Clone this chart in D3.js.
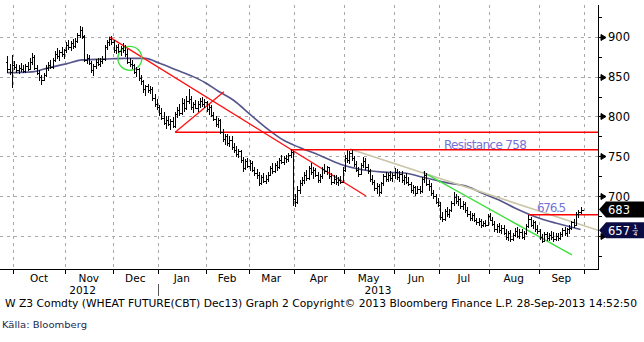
<!DOCTYPE html>
<html>
<head>
<meta charset="utf-8">
<script src="https://cdn.jsdelivr.net/npm/d3@7"></script>
<style>
  body { margin: 0; background: #fff; }
  svg { display: block; }
  text { font-family: "DejaVu Sans", Verdana, sans-serif; }
</style>
</head>
<body>
<svg id="chart" width="644" height="342"></svg>
<script>
// W Z3 (CBOT wheat, Dec 2013) daily bars, 26-Sep-2012 .. 27-Sep-2013
const opens = [
  868,860,856,
  865,862,858,861,859,857,863,860,869,875,861,855,849,846,852,861,865,862,871,879,876,881,878,
  883,890,887,892,888,895,902,908,900,871,874,867,858,863,868,866,870,872,887,893,897,
  894,884,887,882,886,884,879,868,866,864,856,859,848,844,834,838,833,835,823,816,
  812,804,798,792,796,790,794,788,803,808,804,817,811,820,822,812,815,811,816,820,815,
  818,809,812,802,797,790,795,781,772,775,766,771,761,758,753,756,745,735,744,
  738,741,733,729,726,716,724,719,722,727,735,731,739,736,745,743,748,746,751,755,
  696,692,708,716,720,727,723,735,730,733,727,720,725,734,731,736,725,718,722,717,720,718,
  733,748,745,754,748,740,733,728,739,744,736,731,722,717,710,713,705,716,725,721,726,723,
  727,730,724,728,720,724,718,715,708,711,704,709,706,721,726,715,712,704,700,693,
  689,674,671,681,677,682,691,699,694,696,687,690,683,677,672,676,670,667,669,663,666,664,
  675,670,665,659,662,657,660,654,648,653,646,651,656,650,655,649,653,662,671,664,667,658,
  656,648,644,652,647,651,649,646,650,647,652,657,654,658,660,667,664,677,680
];
const highs = [
  876,866,877,
  870,866,864,867,864,866,868,874,880,877,865,858,852,855,864,869,871,874,882,886,884,887,885,
  894,896,895,897,898,905,913,912,902,878,877,870,866,872,874,873,876,890,896,900,901,
  896,890,891,889,892,890,885,873,871,866,862,861,852,846,840,841,838,837,828,822,
  814,810,806,800,801,797,799,806,812,815,823,822,826,834,826,818,821,819,823,825,822,
  820,815,814,806,800,798,797,784,778,778,776,775,766,763,759,758,749,747,748,
  745,744,737,734,730,727,729,726,730,738,741,742,744,748,751,750,752,754,759,757,
  702,712,720,724,730,733,738,741,736,735,730,728,737,740,738,737,729,726,727,724,725,736,
  752,758,757,758,750,744,737,742,749,748,740,734,726,720,716,715,718,728,730,729,731,729,
  735,734,731,732,727,729,724,718,714,713,712,713,724,731,729,720,716,708,703,697,
  692,680,684,686,684,694,705,703,700,698,694,693,686,681,679,679,673,672,671,669,670,678,
  679,674,668,665,666,663,664,658,656,657,654,660,661,658,659,656,665,676.5,674,670,669,663,
  658,652,655,655,654,656,655,653,654,655,660,661,660,663,669,671,680,682,686
];
const lows = [
  855,852,836,
  858,855,853,856,854,855,857,858,864,858,852,845,840,844,850,857,860,860,868,872,870,875,872,
  880,884,882,885,886,892,898,897,868,866,864,855,851,860,863,862,866,870,883,889,890,
  880,878,880,876,880,875,866,862,860,853,850,845,840,830,826,830,828,820,812,808,
  800,795,789,784,788,783,786,786,798,800,802,806,808,815,808,804,809,806,810,812,810,
  806,802,799,794,787,786,778,768,764,763,762,758,754,749,748,742,730,733,735,
  731,730,725,722,712,714,716,715,718,725,728,729,732,734,740,739,742,743,748,688,
  686,690,703,712,715,719,720,727,722,724,716,716,722,728,726,722,714,715,714,713,715,716,
  730,742,740,744,736,730,724,726,735,733,728,718,714,706,702,700,703,713,718,717,719,718,
  722,720,718,716,714,715,712,704,702,700,702,703,704,716,712,706,700,696,690,686,
  670,667,669,674,672,680,688,690,688,684,682,679,674,668,668,667,664,662,660,661,661,662,
  668,662,655,653,654,652,651,645,644,642,643,649,647,646,646,645,651,660,661,658,655,652,
  645,641,643,644,643,645,642,643,644,645,648,650,649,652,657,660,662,672,677
];
const closes = [
  860,856,865,
  862,858,861,859,857,863,860,869,875,861,855,849,846,852,861,865,862,871,879,876,881,878,883,
  890,887,892,888,895,902,908,901,871,874,867,858,863,868,866,870,872,887,893,897,894,
  884,887,882,886,884,879,868,866,864,856,859,848,844,834,838,833,835,823,816,812,
  804,798,792,796,790,794,788,803,808,804,817,811,820,822,812,815,811,816,820,815,818,
  809,812,802,797,790,795,781,772,775,766,771,761,758,753,756,745,735,744,738,
  741,733,729,726,716,724,719,722,727,735,731,739,736,745,743,748,746,751,755,696,
  692,708,716,720,727,723,735,730,733,727,720,725,734,731,736,725,718,722,717,720,718,733,
  748,745,754,748,740,733,728,739,744,736,731,722,717,710,713,705,716,725,721,726,723,727,
  730,724,728,720,724,718,715,708,711,704,709,706,721,726,715,712,704,700,693,689,
  674,671,681,677,682,691,699,694,696,687,690,683,677,672,676,670,667,669,663,666,664,675,
  670,665,659,662,657,660,654,648,653,646,651,656,650,655,649,653,662,671,664,667,658,656,
  648,644,652,647,651,649,646,650,647,652,657,654,658,660,667,664,677,680,683
];

// moving average, [bar index, value]
const movingAvg = [
  [0,855],[11,856],[18,861],[26,866],[33,871],[43,872],[52,873],[61,873],[67,867],
  [75,858],[82,850],[87,843],[93,832],[100,820],[107,803],[115,784],[122,770],[129,761],
  [138,751],[147,740],[155,734],[166,730],[175,729],[183,724],[195,716],[203,712],
  [210,703],[217,695],[224,685],[233,674],[242,666],[253,658]
];

// drawn studies: [bar index, price] end points
const trendRedDown  = [[45, 900], [158.3, 700]];
const trendRedUp    = [[74.1, 780], [95.6, 831]];
const levelLines    = [{from: 74.1, price: 780}, {from: 125, price: 758}, {from: 230, price: 676.5}];
const trendTan      = [[151.2, 759], [260.7, 657]];
const trendGreen    = [[183.5, 730], [249.2, 626]];
const circleMark    = {i: 54.1, price: 873};

const monthNames = ["Oct","Nov","Dec","Jan","Feb","Mar","Apr","May","Jun","Jul","Aug","Sep"];
const yearNames  = ["2012","2013"];
const majorTicks = [650, 700, 750, 800, 850, 900];
const labelTicks = [700, 750, 800, 850, 900];   // 650 sits under the average tag
const minorTicks = [625, 675, 725, 775, 825, 875, 925];
const lastPrice = 683, lastAvg = 657;
const holidays = ["2012-11-22","2012-12-25","2013-01-01","2013-01-21","2013-02-18",
                  "2013-03-29","2013-05-27","2013-07-04","2013-09-02"];

// trading calendar (weekdays without exchange holidays)
const fmt = d3.utcFormat("%Y-%m-%d");
const days = d3.utcDay.range(new Date(Date.UTC(2012, 8, 26)), new Date(Date.UTC(2013, 9, 2)))
  .filter(d => d.getUTCDay() % 6 !== 0 && !holidays.includes(fmt(d)));
const monthStarts = [];
days.forEach((d, i) => { if (i > 0 && d.getUTCMonth() !== days[i - 1].getUTCMonth()) monthStarts.push(i - 0.5); });

const plotR = 598, plotT = 5, plotB = 269;
const svg = d3.select("#chart");
const x = d3.scaleLinear().domain([-3.2, 260.7]).range([0, plotR]);
const y = d3.scaleLinear().domain([608.3, 940]).range([plotB, plotT]);

svg.append("defs").append("clipPath").attr("id", "plot")
  .append("rect").attr("x", 0).attr("y", plotT).attr("width", plotR).attr("height", plotB - plotT);

// grid
const grid = svg.append("g").attr("stroke", "#a8a8a8").attr("stroke-dasharray", "3,4").attr("stroke-width", 1);
grid.selectAll(".gx").data(monthStarts).join("line")
  .attr("x1", d => Math.round(x(d)) + 0.5).attr("x2", d => Math.round(x(d)) + 0.5)
  .attr("y1", plotT).attr("y2", plotB);
grid.selectAll(".gy").data(majorTicks).join("line")
  .attr("x1", 0).attr("x2", plotR)
  .attr("y1", d => Math.round(y(d)) + 0.5).attr("y2", d => Math.round(y(d)) + 0.5);

const plot = svg.append("g").attr("clip-path", "url(#plot)");
const line = d3.line().x(d => x(d[0])).y(d => y(d[1]));

// moving average
plot.append("path").datum(movingAvg)
  .attr("d", line.curve(d3.curveMonotoneX))
  .attr("fill", "none").attr("stroke", "#55558c").attr("stroke-width", 1.6);
line.curve(d3.curveLinear);

// tan trend
plot.append("path").datum(trendTan).attr("d", line)
  .attr("fill", "none").attr("stroke", "#c9c5a6").attr("stroke-width", 1.6);

// red studies
plot.append("path").datum(trendRedDown).attr("d", line).attr("fill", "none").attr("stroke", "#ff1010").attr("stroke-width", 1.3);
plot.append("path").datum(trendRedUp).attr("d", line).attr("fill", "none").attr("stroke", "#ff1010").attr("stroke-width", 1.3);
plot.selectAll(".lvl").data(levelLines).join("line")
  .attr("x1", d => x(d.from)).attr("x2", plotR)
  .attr("y1", d => y(d.price)).attr("y2", d => y(d.price))
  .attr("stroke", "#ff0000").attr("stroke-width", 1.5);

// green studies
plot.append("path").datum(trendGreen).attr("d", line).attr("fill", "none").attr("stroke", "#3ee03e").attr("stroke-width", 1.4);
plot.append("circle").attr("cx", x(circleMark.i)).attr("cy", y(circleMark.price)).attr("r", 12)
  .attr("fill", "none").attr("stroke", "#3ee03e").attr("stroke-width", 1.4);

// OHLC bars
const bars = plot.append("g").attr("stroke", "#000").attr("stroke-width", 1).attr("shape-rendering", "crispEdges");
closes.forEach((c, i) => {
  const xi = Math.round(x(i)) + 0.5;
  bars.append("line").attr("x1", xi).attr("x2", xi).attr("y1", y(highs[i])).attr("y2", y(lows[i]));
  bars.append("line").attr("x1", xi - 2).attr("x2", xi).attr("y1", Math.round(y(opens[i])) + 0.5).attr("y2", Math.round(y(opens[i])) + 0.5);
  bars.append("line").attr("x1", xi).attr("x2", xi + 2).attr("y1", Math.round(y(c)) + 0.5).attr("y2", Math.round(y(c)) + 0.5);
});

// study labels
svg.append("text").attr("x", x(192.7)).attr("y", y(758) - 1)
  .attr("fill", "#7474d6").attr("font-size", 12).attr("textLength", 83).text("Resistance 758");
svg.append("text").attr("x", x(233.8)).attr("y", y(676.5) - 3)
  .attr("fill", "#7474d6").attr("font-size", 12).attr("textLength", 29).text("676.5");

// right axis
const ax = svg.append("g");
ax.append("line").attr("x1", plotR + 0.5).attr("x2", plotR + 0.5).attr("y1", plotT).attr("y2", plotB).attr("stroke", "#000");
ax.selectAll(".mn").data(minorTicks).join("line")
  .attr("x1", plotR).attr("x2", plotR + 4)
  .attr("y1", d => Math.round(y(d)) + 0.5).attr("y2", d => Math.round(y(d)) + 0.5).attr("stroke", "#000");
ax.selectAll(".mj").data(majorTicks).join("path")
  .attr("d", d => { const yy = Math.round(y(d)) + 0.5; return `M${plotR},${yy}H${plotR + 3}M${plotR + 3},${yy - 3}L${plotR + 8},${yy}L${plotR + 3},${yy + 3}Z`; })
  .attr("stroke", "#000").attr("fill", "#000").attr("stroke-width", 1);
ax.selectAll(".lb").data(labelTicks).join("text")
  .attr("x", plotR + 10).attr("y", d => y(d) + 4.5).attr("font-size", 11.5).attr("fill", "#000").text(d => d);

// bottom axis
const bx = svg.append("g");
bx.append("line").attr("x1", 0).attr("x2", plotR + 1).attr("y1", plotB + 0.5).attr("y2", plotB + 0.5).attr("stroke", "#000");
bx.selectAll(".tk").data(monthStarts).join("line")
  .attr("x1", d => Math.round(x(d)) + 0.5).attr("x2", d => Math.round(x(d)) + 0.5)
  .attr("y1", plotB).attr("y2", plotB + 5).attr("stroke", "#000");
bx.selectAll(".ml").data(monthNames).join("text")
  .attr("x", (d, k) => (x(monthStarts[k]) + x(monthStarts[k + 1])) / 2)
  .attr("y", 282).attr("text-anchor", "middle").attr("font-size", 10.5).text(d => d);
const janTick = x(monthStarts[3]);
const yearSpans = [[x(0), janTick], [janTick, plotR]];
bx.selectAll(".yl").data(yearNames).join("text")
  .attr("x", (d, k) => (yearSpans[k][0] + yearSpans[k][1]) / 2)
  .attr("y", 294).attr("text-anchor", "middle").attr("font-size", 10.5).text(d => d);
bx.append("line").attr("x1", Math.round(janTick) + 0.5).attr("x2", Math.round(janTick) + 0.5)
  .attr("y1", 284).attr("y2", 296).attr("stroke", "#555");

// last value tags
function tag(value, fill, label) {
  const yy = y(value), h = 8;
  svg.append("path")
    .attr("d", `M${plotR + 1},${yy}L${plotR + 8},${yy - h}H644V${yy + h}H${plotR + 8}Z`)
    .attr("fill", fill);
  return svg.append("text").attr("x", plotR + 10).attr("y", yy + 4.5)
    .attr("font-size", 11.5).attr("fill", "#fff").text(label);
}
tag(lastAvg, "#0c0c44", "657");
const fr = svg.append("g").attr("fill", "#fff").attr("font-size", 6);
fr.append("text").attr("x", 633.5).attr("y", y(lastAvg) - 0.8).text("1");
fr.append("text").attr("x", 633.5).attr("y", y(lastAvg) + 6.2).text("4");
svg.append("line").attr("x1", 632.5).attr("x2", 638).attr("y1", y(lastAvg) + 0.5).attr("y2", y(lastAvg) + 0.5).attr("stroke", "#fff").attr("stroke-width", 0.7);
tag(lastPrice, "#000", String(lastPrice));

// footer
svg.append("text").attr("x", 5).attr("y", 307).attr("font-size", 10).attr("fill", "#000")
  .attr("textLength", 632).attr("lengthAdjust", "spacingAndGlyphs")
  .text("W Z3 Comdty (WHEAT FUTURE(CBT) Dec13) Graph 2 Copyright\u00a9 2013 Bloomberg Finance L.P. 28-Sep-2013 14:52:50");
svg.append("text").attr("x", 2).attr("y", 328).attr("font-size", 9).attr("fill", "#1c2a4c")
  .attr("font-family", "'Liberation Sans Narrow', 'Liberation Sans', sans-serif")
  .attr("textLength", 85).attr("lengthAdjust", "spacingAndGlyphs").text("Källa: Bloomberg");
</script>
</body>
</html>
